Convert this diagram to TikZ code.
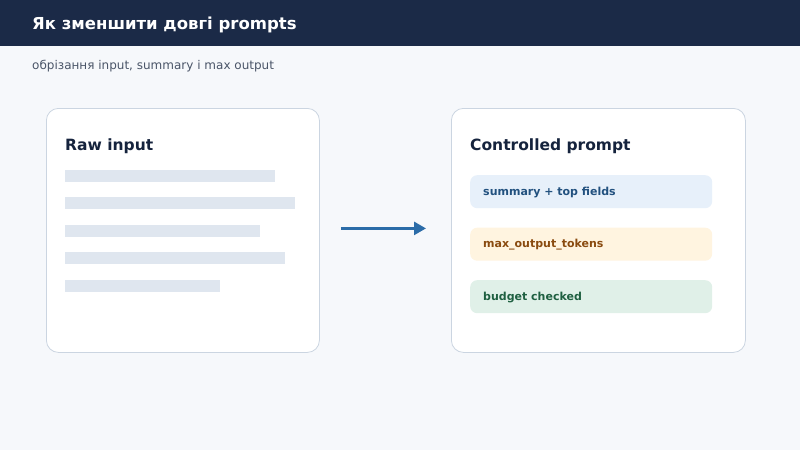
\documentclass[tikz,border=0pt]{standalone}
\usepackage{fontspec}
\setmainfont{DejaVu Sans}
\usetikzlibrary{arrows.meta}
\definecolor{hdr}{HTML}{1B2A47}
\definecolor{bg}{HTML}{F6F8FB}
\definecolor{cardline}{HTML}{CBD5E1}
\definecolor{ink}{HTML}{15233D}
\definecolor{sub}{HTML}{4A5568}
\definecolor{barc}{HTML}{DFE6EF}
\definecolor{arrowc}{HTML}{2B6CA8}
\definecolor{chipA}{HTML}{E7F0FA}
\definecolor{chipAt}{HTML}{22517F}
\definecolor{chipB}{HTML}{FFF4E0}
\definecolor{chipBt}{HTML}{8A4B10}
\definecolor{chipC}{HTML}{E0F0E8}
\definecolor{chipCt}{HTML}{1F6041}
\tikzset{
  card/.style={draw=cardline, fill=white, line width=0.8pt, rounded corners=12pt, minimum width=#1, minimum height=244pt, inner sep=0pt},
  bar/.style={fill=barc, draw=none, inner sep=0pt, minimum height=12pt, anchor=north west},
  chip/.style={draw=none, rounded corners=7pt, minimum width=242pt, minimum height=33pt, inner sep=0pt, anchor=north west},
  chiptext/.style={font=\bfseries\fontsize{11}{13}\selectfont, anchor=west, inner sep=0pt},
  cardtitle/.style={font=\bfseries\fontsize{15.5}{19}\selectfont, text=ink, anchor=base west, inner sep=0pt},
}
\begin{document}
\begin{tikzpicture}[x=1pt,y=-1pt]
\useasboundingbox (0,0) rectangle (800,450);
\fill[bg] (0,0) rectangle (800,450);
\fill[hdr] (0,0) rectangle (800,46);
\node[anchor=base west, inner sep=0pt, text=white, font=\bfseries\fontsize{16.5}{20}\selectfont] (title) at (32,29) {Як зменшити довгі prompts};
\node[anchor=base west, inner sep=0pt, text=sub, font=\fontsize{12}{15}\selectfont] (subtitle) at (32,69) {обрізання input, summary і max output};
% left card
\node[card=273pt, anchor=north west] (left) at (46,108) {};
\node[cardtitle] (lt) at (65,150) {Raw input};
\node[bar, minimum width=210pt] (b1) at (65,170) {};
\node[bar, minimum width=230pt] (b2) at (65,197) {};
\node[bar, minimum width=195pt] (b3) at (65,225) {};
\node[bar, minimum width=220pt] (b4) at (65,252) {};
\node[bar, minimum width=155pt] (b5) at (65,280) {};
% right card
\node[card=294pt, anchor=north west] (right) at (451,108) {};
\node[cardtitle] (rt) at (470,150) {Controlled prompt};
\node[chip, fill=chipA] (c1) at (470,175) {};
\node[chiptext, text=chipAt] at ([xshift=13pt,yshift=-0.5pt]c1.west) {summary + top fields};
\node[chip, fill=chipB] (c2) at (470,227.5) {};
\node[chiptext, text=chipBt] at ([xshift=13pt,yshift=-0.5pt]c2.west) {max\_output\_tokens};
\node[chip, fill=chipC] (c3) at (470,280) {};
\node[chiptext, text=chipCt] at ([xshift=13pt,yshift=-0.5pt]c3.west) {budget checked};
% arrow
\draw[arrowc, line width=2.6pt, -{Triangle[length=12pt,width=13pt]}, shorten <=21pt, shorten >=25pt] ([yshift=2pt]left.east) -- ([yshift=2pt]right.west);
\end{tikzpicture}
\end{document}
